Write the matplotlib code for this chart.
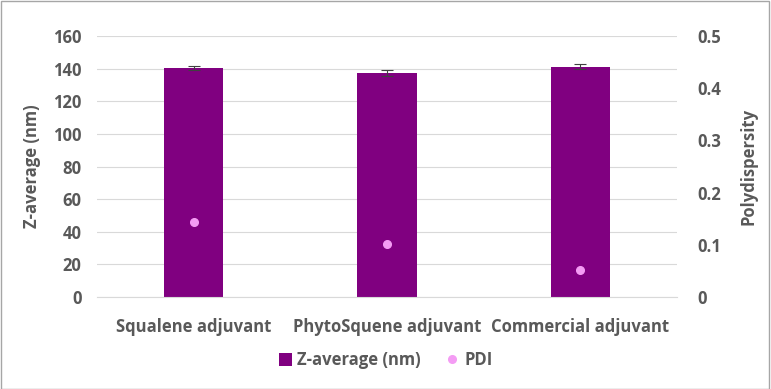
import numpy as np
import matplotlib.pyplot as plt
from matplotlib.lines import Line2D
from matplotlib.patches import Patch

categories = ["Squalene adjuvant", "PhytoSquene adjuvant", "Commercial adjuvant"]
z_average = [140.2, 137.3, 141.3]
z_err = [1.2, 1.6, 1.4]
pdi = [0.144, 0.101, 0.051]

txt = '#595959'
plt.rcParams['font.family'] = ['Open Sans', 'DejaVu Sans']
plt.rcParams['font.weight'] = 'bold'
fs = 12

fig = plt.figure(figsize=(7.71, 3.89), dpi=100)
ax = fig.add_axes([97/771, 1-297/389, 580/771, 261/389])
x = np.arange(len(categories))

ax.bar(x, z_average, width=0.306, color='#800080', zorder=2)
ax.errorbar(x, z_average, yerr=z_err, fmt='none', ecolor='#404040',
            elinewidth=0.8, capsize=4, capthick=0.8, zorder=3)
ax.set_xlim(-0.5, 2.5)
ax.set_ylim(0, 160)
ax.set_yticks(np.arange(0, 161, 20))
ax.grid(axis='y', color='#d9d9d9', linewidth=0.8, zorder=0)
ax.set_axisbelow(True)
for s in ['top', 'right', 'left']:
    ax.spines[s].set_visible(False)
ax.spines['bottom'].set_color('#d9d9d9')
ax.set_xticks(x)
ax.set_xticklabels(categories)
ax.tick_params(axis='both', length=0, labelsize=fs, labelcolor=txt)
ax.tick_params(axis='x', pad=15)
ax.tick_params(axis='y', pad=11)
ax.set_ylabel("Z-average (nm)", fontsize=fs, color=txt, fontweight='bold', labelpad=9)

ax2 = ax.twinx()
ax2.plot(x, pdi, 'o', color='#f49cf4', markersize=5.5, zorder=4)
ax2.set_ylim(0, 0.5)
ax2.set_yticks(np.arange(0, 0.51, 0.1))
ax2.set_yticklabels(['0', '0.1', '0.2', '0.3', '0.4', '0.5'])
for s in ['top', 'right', 'left', 'bottom']:
    ax2.spines[s].set_visible(False)
ax2.tick_params(axis='y', length=0, labelsize=fs, labelcolor=txt, pad=15)
ax2.set_ylabel("Polydispersity", fontsize=fs, color=txt, fontweight='bold', labelpad=13)

handles = [Patch(facecolor='#800080', label='Z-average (nm)'),
           Line2D([], [], marker='o', linestyle='none', color='#f49cf4',
                  markersize=5.5, label='PDI')]
leg = fig.legend(handles=handles, loc='center', bbox_to_anchor=(0.5, 1-360/389),
                 ncol=2, frameon=False, fontsize=fs, handlelength=0.8,
                 handleheight=0.8, handletextpad=0.3, columnspacing=1.5)
for t in leg.get_texts():
    t.set_color(txt)

fig.add_artist(plt.Rectangle((0.001, 0.001), 0.997, 0.996, transform=fig.transFigure,
                             fill=False, edgecolor='#a6a6a6', linewidth=1))

fig.savefig('out.png', dpi=100)
